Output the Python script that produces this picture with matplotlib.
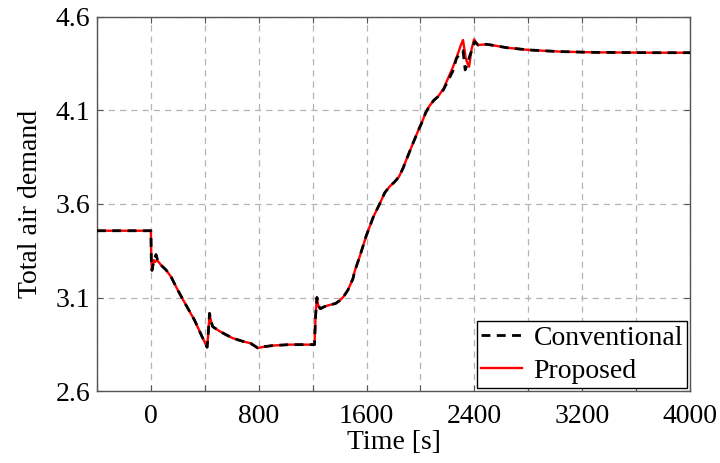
import matplotlib
matplotlib.use("Agg")
import matplotlib.pyplot as plt
from matplotlib.ticker import MultipleLocator, FuncFormatter

plt.rcParams['font.family'] = ['Liberation Serif', 'DejaVu Serif']

# time [s] and total air demand, conventional controller
t_conv = [-400, 0, 3, 8, 20, 38, 50, 80, 113, 150, 199, 260, 323, 380, 417,
          425, 435, 447, 459, 509, 560, 606, 680, 740, 793, 850, 903, 1029,
          1150, 1214, 1222, 1232, 1240, 1257, 1290, 1326, 1370, 1400, 1430,
          1462, 1499, 1512, 1550, 1598, 1650, 1697, 1735, 1771, 1809, 1840,
          1870, 1900, 1945, 1982, 2007, 2040, 2069, 2100, 2130, 2170, 2205,
          2240, 2267, 2300, 2316, 2332, 2348, 2364, 2385, 2402, 2428, 2490,
          2560, 2638, 2720, 2799, 2900, 3034, 3150, 3281, 3500, 3750, 4000]
air_conv = [3.457, 3.457, 3.30, 3.245, 3.29, 3.33, 3.30, 3.27, 3.247, 3.21,
            3.14, 3.06, 2.98, 2.89, 2.834, 2.90, 3.015, 2.97, 2.944, 2.92,
            2.90, 2.883, 2.866, 2.855, 2.830, 2.838, 2.843, 2.848, 2.848,
            2.848, 3.00, 3.10, 3.06, 3.04, 3.052, 3.06, 3.068, 3.083, 3.105,
            3.14, 3.20, 3.24, 3.32, 3.43, 3.53, 3.60, 3.66, 3.693, 3.719,
            3.745, 3.79, 3.845, 3.925, 3.99, 4.03, 4.09, 4.127, 4.155, 4.174,
            4.21, 4.26, 4.31, 4.378, 4.41, 4.42, 4.317, 4.35, 4.388, 4.43,
            4.468, 4.45, 4.454, 4.446, 4.436, 4.43, 4.424, 4.42, 4.415, 4.413,
            4.411, 4.41, 4.409, 4.409]

# proposed controller
t_prop = [-400, 0, 3, 8, 21, 30, 45, 80, 113, 150, 199, 260, 323, 380, 417,
          425, 435, 447, 459, 509, 560, 606, 680, 740, 793, 850, 903, 1029,
          1150, 1214, 1222, 1232, 1240, 1257, 1290, 1326, 1370, 1400, 1430,
          1462, 1499, 1512, 1550, 1598, 1650, 1697, 1735, 1771, 1809, 1840,
          1870, 1900, 1945, 1982, 2007, 2040, 2069, 2100, 2130, 2170, 2205,
          2240, 2279, 2300, 2316, 2336, 2350, 2361, 2380, 2398, 2428, 2490,
          2560, 2638, 2720, 2799, 2900, 3034, 3150, 3281, 3500, 3750, 4000]
air_prop = [3.457, 3.457, 3.30, 3.245, 3.30, 3.29, 3.30, 3.27, 3.247, 3.21,
            3.14, 3.06, 2.98, 2.89, 2.834, 2.90, 3.015, 2.97, 2.944, 2.92,
            2.90, 2.883, 2.866, 2.855, 2.830, 2.838, 2.843, 2.848, 2.848,
            2.848, 3.00, 3.10, 3.06, 3.04, 3.052, 3.06, 3.068, 3.083, 3.105,
            3.14, 3.20, 3.24, 3.32, 3.43, 3.53, 3.60, 3.66, 3.693, 3.719,
            3.745, 3.79, 3.845, 3.925, 3.99, 4.03, 4.09, 4.127, 4.155, 4.174,
            4.215, 4.272, 4.33, 4.406, 4.45, 4.477, 4.38, 4.35, 4.334, 4.43,
            4.48, 4.45, 4.454, 4.446, 4.436, 4.43, 4.424, 4.42, 4.415, 4.413,
            4.411, 4.41, 4.409, 4.409]

fig = plt.figure(figsize=(7.2, 4.63), dpi=100)
ax = fig.add_axes([0.1347, 0.1555, 0.8236, 0.8078])

ax.plot(t_prop, air_prop, color='#ff0000', lw=1.7, label='Proposed', zorder=3)
ax.plot(t_conv, air_conv, color='black', lw=2.0, linestyle=(0, (3.2, 2.3)),
        label='Conventional', zorder=4)

ax.set_xlim(-400, 4000)
ax.set_ylim(2.6, 4.6)
ax.xaxis.set_major_locator(MultipleLocator(400))
ax.xaxis.set_major_formatter(FuncFormatter(
    lambda x, pos: '%d' % x if x >= 0 and round(x) % 800 == 0 else ''))
ax.set_yticks([2.6, 3.1, 3.6, 4.1, 4.6])
ax.set_yticklabels(['2.6', '3.1', '3.6', '4.1', '4.6'])

ax.grid(True, color='#b4b4b4', linestyle=(0, (5, 4)), linewidth=0.9)
ax.tick_params(direction='in', top=True, right=True, length=4,
               color='#555555', labelsize=20)
ax.tick_params(axis='x', pad=9)
ax.tick_params(axis='y', pad=5)
for s in ax.spines.values():
    s.set_color('#555555')
    s.set_linewidth(1.0)

ax.set_xlabel('Time [s]', fontsize=20, labelpad=1)
ax.set_ylabel('Total air demand', fontsize=20, labelpad=9)

handles, labels = ax.get_legend_handles_labels()
leg = ax.legend(handles[::-1], labels[::-1], loc='lower right', fontsize=20,
                fancybox=False, edgecolor='black', framealpha=1,
                borderaxespad=0.1, handlelength=1.5, handletextpad=0.4,
                labelspacing=0.28, borderpad=0.15)
leg.get_frame().set_linewidth(1.0)

fig.savefig('out.png', dpi=100)
